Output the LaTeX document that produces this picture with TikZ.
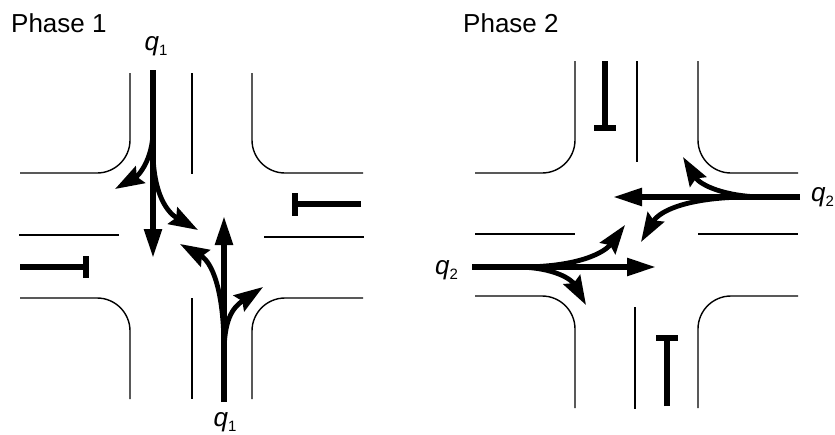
\documentclass[tikz,border=0pt]{standalone}
\usepackage{fontspec}
\setmainfont{Liberation Sans}
\usetikzlibrary{arrows.meta}
\newcommand\qlab[2]{{\itshape #1}\raisebox{-0.22em}{\fontsize{15}{15}\selectfont #2}}
\tikzset{
  road/.style={line width=1.4pt, black, rounded corners=33pt},
  flow/.style={line width=5.5pt, -{Triangle[length=29pt,width=17pt]}},
  turn/.style={line width=4.8pt, -{Stealth[length=29pt,width=19pt,inset=4pt]}},
  stopline/.style={line width=6pt},
  lab/.style={inner sep=0pt, font=\fontsize{26}{30}\selectfont},
}
\begin{document}
\begin{tikzpicture}[x=1pt,y=-1pt]
\useasboundingbox (0,0) rectangle (835,434);
\fill[white] (0,0) rectangle (835,434);
% ---------- Phase 1 ----------
\node[lab, anchor=base west] (ph1) at (11,32) {Phase 1};
\draw[road] (20,173) -- (130,173) -- (130,73);
\draw[road] (363,173) -- (252,173) -- (252,73);
\draw[road] (20,298) -- (130,298) -- (130,399);
\draw[road] (363,298) -- (252,298) -- (252,399);
\draw[road] (192,73) -- (192,174);
\draw[road] (192,298) -- (192,399);
\draw[road] (19,235) -- (119,235);
\draw[road] (264,237) -- (364,237);
% stop bars
\draw[stopline] (361,204) -- (295,204);
\draw[stopline] (295,193) -- (295,216);
\draw[stopline] (20,267) -- (86,267);
\draw[stopline] (86,256) -- (86,278);
% flows
\draw[flow] (153,70) -- (153,258);
\draw[turn] (153,130) .. controls (153,160) and (138,176) .. (115,189);
\draw[turn] (153,150) .. controls (153,195) and (168,213) .. (198,230);
\draw[flow] (224,402) -- (224,216);
\draw[turn] (224,350) .. controls (224,290) and (212,262) .. (180,244);
\draw[turn] (224,355) .. controls (224,320) and (232,308) .. (263,287);
\node[lab, anchor=base] (q1t) at (156,50) {\qlab{q}{1}};
\node[lab, anchor=base] (q1b) at (225,426) {\qlab{q}{1}};
% ---------- Phase 2 ----------
\node[lab, anchor=base west] (ph2) at (463,32) {Phase 2};
\draw[road] (475,173) -- (575,173) -- (575,61);
\draw[road] (798,173) -- (698,173) -- (698,61);
\draw[road] (475,296) -- (575,296) -- (575,408);
\draw[road] (798,296) -- (698,296) -- (698,408);
\draw[road] (637,61) -- (637,162);
\draw[road] (635,307) -- (635,409);
\draw[road] (475,234) -- (575,234);
\draw[road] (698,234) -- (798,234);
% stop bars
\draw[stopline] (605,61) -- (605,128);
\draw[stopline] (594,128) -- (616,128);
\draw[stopline] (667,406) -- (667,338);
\draw[stopline] (656,338) -- (678,338);
% flows
\draw[flow] (800,197) -- (613,197);
\draw[turn] (765,197) .. controls (725,197) and (700,185) .. (683,157);
\draw[turn] (750,197) .. controls (690,197) and (660,210) .. (641,242);
\draw[flow] (472,267) -- (656,267);
\draw[turn] (520,267) .. controls (580,267) and (605,252) .. (625,225);
\draw[turn] (515,267) .. controls (555,267) and (572,280) .. (586,305);
\node[lab, anchor=base west] (q2r) at (811,201) {\qlab{q}{2}};
\node[lab, anchor=base west] (q2l) at (435,274) {\qlab{q}{2}};
\end{tikzpicture}
\end{document}
